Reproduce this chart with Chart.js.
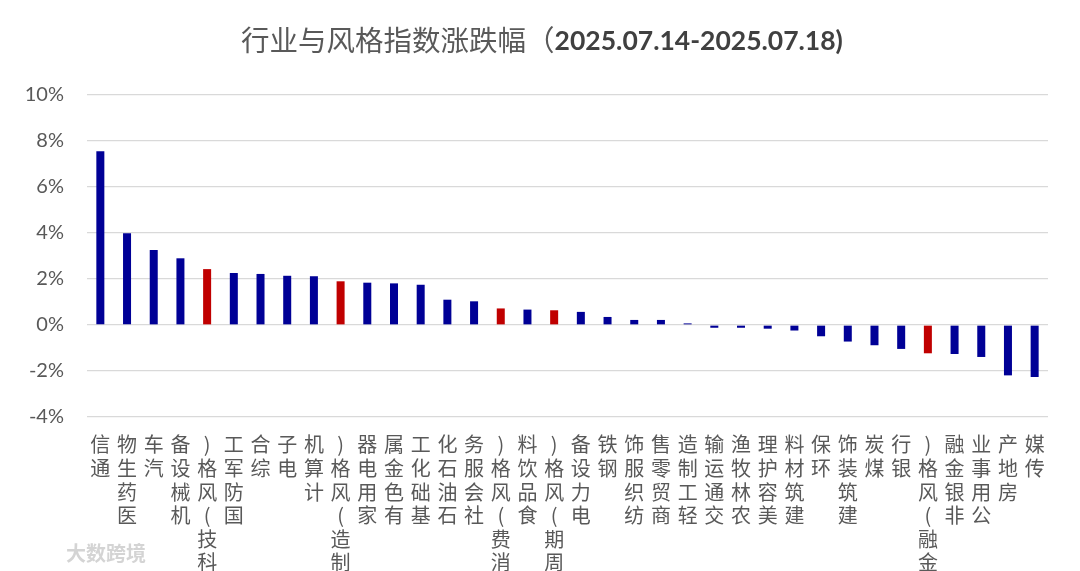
<!DOCTYPE html>
<html>
<head>
<meta charset="utf-8">
<script src="https://cdn.jsdelivr.net/npm/chart.js@4"></script>
<style>
  html, body { margin: 0; padding: 0; background: #fff; }
  #box { width: 1080px; height: 571px; }
</style>
</head>
<body>
<div id="box"><canvas id="chart"></canvas></div>
<script>
// categorias (行业 + 风格)
const categories = [
  '通信', '医药生物', '汽车', '机械设备', '科技(风格)', '国防军工', '综合', '电子', '计算机',
  '制造(风格)', '家用电器', '有色金属', '基础化工', '石油石化', '社会服务', '消费(风格)', '食品饮料',
  '周期(风格)', '电力设备', '钢铁', '纺织服饰', '商贸零售', '轻工制造', '交通运输', '农林牧渔',
  '美容护理', '建筑材料', '环保', '建筑装饰', '煤炭', '银行', '金融(风格)', '非银金融', '公用事业',
  '房地产', '传媒'
];

// 涨跌幅 (%)
const changes = [
  7.55, 3.99, 3.26, 2.90, 2.43, 2.26, 2.22, 2.14, 2.12,
  1.90, 1.84, 1.81, 1.75, 1.10, 1.03, 0.72, 0.67,
  0.64, 0.57, 0.35, 0.22, 0.22, 0.07, -0.12, -0.12,
  -0.16, -0.24, -0.49, -0.72, -0.88, -1.04, -1.23, -1.26, -1.39,
  -2.19, -2.26
];

const yTicks = [-4, -2, 0, 2, 4, 6, 8, 10];
const titleMain = '行业与风格指数涨跌幅（';
const titleDate = '2025.07.14-2025.07.18)';
const watermark = '大数跨境';

const BLUE = '#000096';
const RED = '#C00000';
const GRAY = '#595959';

// rótulos empilhados verticalmente, lidos de baixo para cima
const stackedLabels = categories.map(c => Array.from(c).reverse());

// título com pesos diferentes + marca d'água
const titlePlugin = {
  id: 'titlePlugin',
  afterDraw(chart) {
    const ctx = chart.ctx;
    ctx.save();
    ctx.textBaseline = 'middle';
    ctx.textAlign = 'left';
    const f1 = '28.5px "Noto Sans CJK SC"';
    const f2 = 'bold 26.5px Lato, "Noto Sans CJK SC"';
    ctx.font = f1;
    const w1 = ctx.measureText(titleMain).width;
    ctx.font = f2;
    const w2 = ctx.measureText(titleDate).width;
    let x = 542 - (w1 + w2) / 2;
    ctx.font = f1;
    ctx.fillStyle = GRAY;
    ctx.fillText(titleMain, x, 40);
    ctx.font = f2;
    ctx.fillStyle = '#404040';
    ctx.fillText(titleDate, x + w1, 41);

    ctx.font = 'bold 20px "Noto Sans CJK SC"';
    ctx.fillStyle = '#d4d4d4';
    ctx.textBaseline = 'alphabetic';
    ctx.fillText(watermark, 66, 561);
    ctx.restore();
  }
};

const ctx = document.getElementById('chart').getContext('2d');

new Chart(ctx, {
  type: 'bar',
  data: {
    labels: stackedLabels,
    datasets: [{
      data: changes,
      backgroundColor: categories.map(c => c.includes('(风格)') ? RED : BLUE),
      borderWidth: 0,
      barPercentage: 0.6,
      categoryPercentage: 0.5
    }]
  },
  options: {
    responsive: true,
    maintainAspectRatio: false,
    animation: false,
    layout: { padding: { top: 95, right: 32, left: 0, bottom: 0 } },
    plugins: {
      legend: { display: false },
      tooltip: { enabled: false }
    },
    scales: {
      x: {
        grid: { display: false },
        border: { display: false },
        ticks: {
          autoSkip: false,
          minRotation: 0,
          maxRotation: 0,
          padding: 8,
          color: GRAY,
          font: { family: '"Noto Sans CJK SC"', size: 20, lineHeight: 1.18 }
        },
        afterFit(scale) { scale.height = 154; }
      },
      y: {
        min: -4,
        max: 10,
        afterBuildTicks(scale) { scale.ticks = yTicks.map(v => ({ value: v })); },
        grid: { color: '#d9d9d9', lineWidth: 1.3, drawTicks: false },
        border: { display: false },
        ticks: {
          padding: 23,
          color: GRAY,
          font: { family: 'Lato', size: 20 },
          callback: v => v + '%'
        },
        afterFit(scale) { scale.width = 87; }
      }
    }
  },
  plugins: [titlePlugin]
});
</script>
</body>
</html>
